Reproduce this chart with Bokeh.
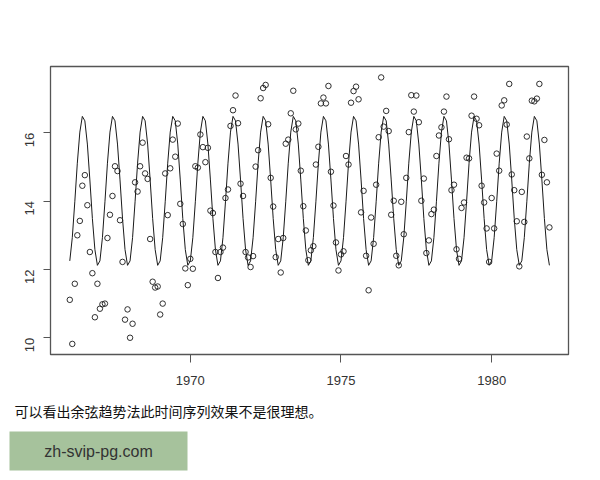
import math
from bokeh.plotting import figure
from bokeh.layouts import column
from bokeh.models import Range1d, FixedTicker
from bokeh.core.properties import value
from bokeh.embed import file_html
from bokeh.resources import INLINE

# ---- data ----
start_year = 1966
observed = [
    11.11, 9.82, 11.58, 13.00, 13.42, 14.45, 14.76, 13.88, 12.51, 11.89, 10.60, 11.58,
    10.85, 10.98, 11.00, 12.92, 13.60, 14.15, 15.02, 14.88, 13.44, 12.22, 10.53, 10.83,
    10.00, 10.41, 14.55, 14.28, 15.02, 15.71, 14.81, 14.65, 12.89, 11.64, 11.47, 11.50,
    10.68, 11.00, 14.81, 13.59, 14.96, 15.80, 15.30, 16.27, 13.92, 13.33, 12.03, 11.54,
    12.31, 12.02, 15.02, 14.98, 15.95, 15.58, 15.14, 15.56, 13.72, 13.65, 12.51, 11.75,
    12.51, 12.64, 14.09, 14.34, 16.20, 16.66, 17.09, 16.28, 14.51, 14.15, 12.51, 12.35,
    12.07, 12.39, 15.01, 15.49, 17.01, 17.31, 17.40, 16.25, 14.68, 13.84, 12.36, 12.89,
    11.91, 12.92, 15.68, 15.80, 16.57, 17.23, 16.10, 16.27, 14.89, 13.85, 13.14, 12.27,
    12.56, 12.68, 15.07, 15.59, 16.86, 17.03, 16.86, 17.37, 14.86, 13.87, 12.79, 11.97,
    12.44, 12.53, 15.32, 15.07, 16.88, 17.22, 17.35, 16.98, 13.67, 14.30, 12.40, 11.39,
    13.52, 12.75, 14.48, 15.87, 17.62, 16.18, 16.64, 16.05, 13.60, 14.01, 12.40, 12.12,
    13.98, 13.03, 14.68, 16.02, 17.10, 16.62, 17.09, 16.31, 14.01, 14.66, 12.48, 12.85,
    13.62, 13.75, 15.32, 15.92, 16.16, 16.62, 17.06, 15.81, 14.32, 14.48, 12.59, 12.31,
    13.80, 13.96, 15.27, 15.25, 16.50, 17.06, 16.41, 16.22, 14.45, 13.96, 13.20, 12.22,
    14.09, 13.20, 15.39, 14.89, 16.80, 16.95, 16.24, 17.43, 14.78, 14.32, 13.41, 12.09,
    14.27, 13.39, 15.89, 15.25, 16.94, 16.92, 17.00, 17.43, 14.77, 15.79, 14.55, 13.23,
]
fit_by_month = [12.25, 12.93, 13.98, 15.11, 16.02, 16.48, 16.35, 15.67, 14.62, 13.49, 12.58, 12.12]
x_ticks = [1970, 1975, 1980]
y_ticks = [10, 12, 14, 16]
caption = "可以看出余弦趋势法此时间序列效果不是很理想。"
watermark = "zh-svip-pg.com"

n = len(observed)
t = [start_year + i / 12 for i in range(n)]
fitted = [fit_by_month[i % 12] for i in range(n)]

AX = "#555555"
W = 592
p = figure(width=W, height=392, output_backend="svg", toolbar_location=None,
           x_range=Range1d(1965.36, 1982.55), y_range=Range1d(9.51, 17.94),
           min_border_left=50, min_border_right=24, min_border_top=66,
           min_border_bottom=38)
p.title.visible = False
p.grid.visible = False
p.outline_line_color = AX
p.outline_line_width = 1.3
p.background_fill_color = "white"
p.border_fill_color = "white"

p.line(t, fitted, line_color="#1a1a1a", line_width=1)
p.scatter(t, observed, marker="circle", size=5.5, fill_color=None,
          line_color="#1a1a1a", line_width=0.9)

for ax in (p.xaxis[0], p.yaxis[0]):
    ax.axis_line_color = AX
    ax.major_tick_line_color = AX
    ax.major_tick_in = 0
    ax.minor_tick_out = 0
    ax.minor_tick_in = 0
    ax.major_label_text_font = "Liberation Sans"
    ax.major_label_text_font_size = "13px"
    ax.major_label_text_color = "#333333"

p.xaxis.ticker = FixedTicker(ticks=x_ticks, minor_ticks=[])
p.yaxis.ticker = FixedTicker(ticks=y_ticks, minor_ticks=[])
p.xaxis.major_tick_out = 8
p.yaxis.major_tick_out = 7
p.xaxis.major_label_standoff = 13
p.yaxis.major_label_standoff = 14
p.yaxis.major_label_orientation = math.pi / 2

# lower panel: caption and watermark box, in page pixel coordinates
q = figure(width=W, height=80, output_backend="svg", toolbar_location=None,
           x_range=Range1d(0, W), y_range=Range1d(472, 392),
           x_axis_type=None, y_axis_type=None, min_border=0)
q.title.visible = False
q.grid.visible = False
q.outline_line_color = None
q.background_fill_color = "white"
q.border_fill_color = "white"

for fig in (p, q):
    if "frame_align" in fig.properties():
        fig.frame_align = False

q.text(x=[14], y=[410], text=[caption], text_font=value("Noto Sans CJK SC"),
       text_font_size="14px", text_color="#111111", text_align="left",
       text_baseline="middle")
q.quad(left=[9], right=[187], top=[431], bottom=[470], fill_color="#a6c29c",
       line_color=None)
q.text(x=[98], y=[450.5], text=[watermark], text_font=value("Liberation Sans"),
       text_font_size="16px", text_color="#333333", text_align="center",
       text_baseline="middle")

layout = column(p, q, spacing=0)
open("out.html", "w").write(file_html(layout, INLINE))
